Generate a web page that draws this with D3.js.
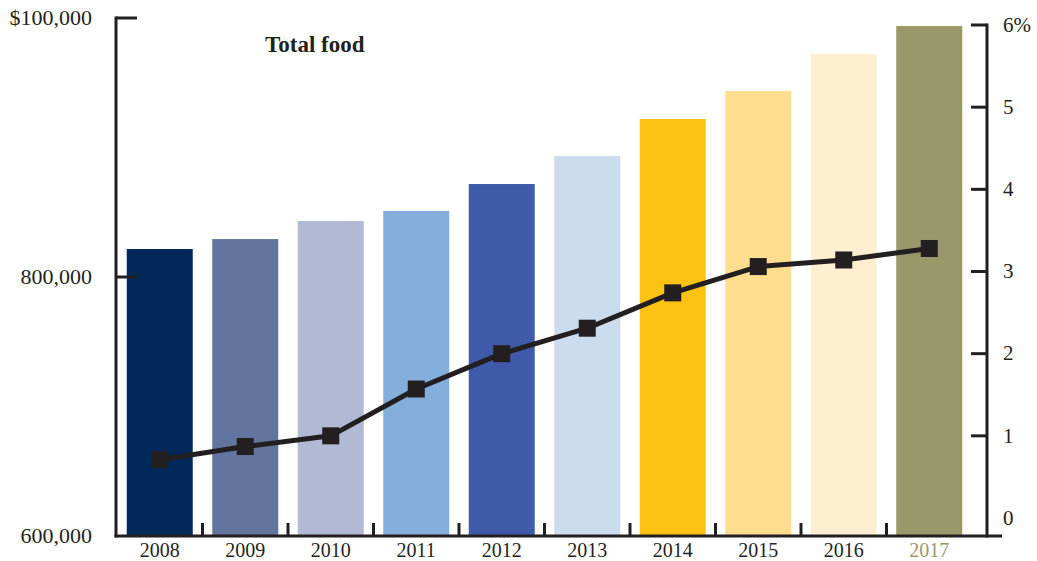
<!DOCTYPE html>
<html>
<head>
<meta charset="utf-8">
<script src="https://cdn.jsdelivr.net/npm/d3@7"></script>
<style>
  html, body { margin: 0; padding: 0; background: #fff; }
  svg { display: block; }
  text { font-family: "Liberation Serif", "DejaVu Serif", serif; fill: #231f20; }
</style>
</head>
<body>
<svg id="chart" width="1037" height="561"></svg>
<script>
// Years shown along the bottom
const years = ["2008", "2009", "2010", "2011", "2012", "2013", "2014", "2015", "2016", "2017"];
// Total food spending (dollars, bars, left axis)
const spending = [821600, 829300, 843200, 851000, 871800, 893400, 922000, 943600, 972200, 993800];
// Annual change (percent, line, right axis)
const pctChange = [0.71, 0.87, 1.0, 1.57, 2.0, 2.31, 2.74, 3.06, 3.14, 3.28];
// Bar fill per year
const barColors = ["#00295a", "#62759f", "#b2b9d4", "#84aedc", "#3f5aa8",
                   "#ccdcef", "#fdc313", "#fedd8f", "#ffefd0", "#989868"];
// Axis tick values and labels
const leftTicks = [600000, 800000, 1000000];
const leftTickLabels = ["600,000", "800,000", "$100,000"];
const rightTicks = [0, 1, 2, 3, 4, 5, 6];
const rightTickLabels = ["0", "1", "2", "3", "4", "5", "6%"];

const ink = "#231f20";
const svg = d3.select("#chart");

const x = d3.scaleBand().domain(years).range([117, 972]).padding(0);
const barW = 66;
const yLeft = d3.scaleLinear().domain([600000, 1000000]).range([536, 18]);
const yRight = d3.scaleLinear().domain([0, 6]).range([518, 25]);

// Bars
svg.append("g").selectAll("rect")
  .data(years)
  .join("rect")
  .attr("x", (d) => x(d) + (x.bandwidth() - barW) / 2)
  .attr("width", barW)
  .attr("y", (d, i) => yLeft(spending[i]))
  .attr("height", (d, i) => yLeft(600000) - yLeft(spending[i]))
  .attr("fill", (d, i) => barColors[i]);

// Left axis: vertical line with inward ticks
const leftAxis = svg.append("g");
leftAxis.append("line")
  .attr("x1", 116).attr("x2", 116)
  .attr("y1", yLeft(1000000) - 1.5).attr("y2", 537.5)
  .attr("stroke", ink).attr("stroke-width", 3);
leftAxis.selectAll("line.tick")
  .data(leftTicks.slice(1))
  .join("line")
  .attr("class", "tick")
  .attr("x1", 116).attr("x2", 137)
  .attr("y1", (d) => yLeft(d)).attr("y2", (d) => yLeft(d))
  .attr("stroke", ink).attr("stroke-width", 3);
leftAxis.selectAll("text")
  .data(leftTicks)
  .join("text")
  .attr("x", 92)
  .attr("y", (d) => yLeft(d) + 2)
  .attr("text-anchor", "end")
  .attr("dominant-baseline", "middle")
  .attr("font-size", 22)
  .text((d, i) => leftTickLabels[i]);

// Right axis: vertical line with inward ticks
const rightAxis = svg.append("g");
rightAxis.append("line")
  .attr("x1", 987).attr("x2", 987)
  .attr("y1", yRight(6) - 1.5).attr("y2", 537.5)
  .attr("stroke", ink).attr("stroke-width", 3);
rightAxis.selectAll("line.tick")
  .data(rightTicks.filter((d) => d > 0))
  .join("line")
  .attr("class", "tick")
  .attr("x1", 971).attr("x2", 987)
  .attr("y1", (d) => yRight(d)).attr("y2", (d) => yRight(d))
  .attr("stroke", ink).attr("stroke-width", 3);
rightAxis.selectAll("text")
  .data(rightTicks)
  .join("text")
  .attr("x", 1003)
  .attr("y", (d) => yRight(d) + 2)
  .attr("text-anchor", "start")
  .attr("dominant-baseline", "middle")
  .attr("font-size", 21)
  .text((d, i) => rightTickLabels[i]);

// Bottom axis: baseline, ticks between bars, year labels
const bottom = svg.append("g");
bottom.append("line")
  .attr("x1", 114.5).attr("x2", 1002)
  .attr("y1", 536).attr("y2", 536)
  .attr("stroke", ink).attr("stroke-width", 3);
bottom.selectAll("line.tick")
  .data(years.slice(1))
  .join("line")
  .attr("class", "tick")
  .attr("x1", (d) => x(d)).attr("x2", (d) => x(d))
  .attr("y1", 536).attr("y2", 523)
  .attr("stroke", ink).attr("stroke-width", 3);
bottom.selectAll("text")
  .data(years)
  .join("text")
  .attr("x", (d) => x(d) + x.bandwidth() / 2)
  .attr("y", 557)
  .attr("text-anchor", "middle")
  .attr("font-size", 20)
  .style("fill", (d, i) => i === years.length - 1 ? barColors[i] : ink)
  .text((d) => d);

// Percent change line with square markers
const line = d3.line()
  .x((d, i) => x(years[i]) + x.bandwidth() / 2)
  .y((d) => yRight(d));
svg.append("path")
  .datum(pctChange)
  .attr("d", line)
  .attr("fill", "none")
  .attr("stroke", ink)
  .attr("stroke-width", 5)
  .attr("stroke-linejoin", "round");
const m = 17;
svg.append("g").selectAll("rect")
  .data(pctChange)
  .join("rect")
  .attr("x", (d, i) => x(years[i]) + x.bandwidth() / 2 - m / 2)
  .attr("y", (d) => yRight(d) - m / 2)
  .attr("width", m).attr("height", m)
  .attr("fill", ink);

// Title
svg.append("text")
  .attr("x", 265)
  .attr("y", 52)
  .attr("font-size", 23)
  .attr("font-weight", "bold")
  .text("Total food");
</script>
</body>
</html>
